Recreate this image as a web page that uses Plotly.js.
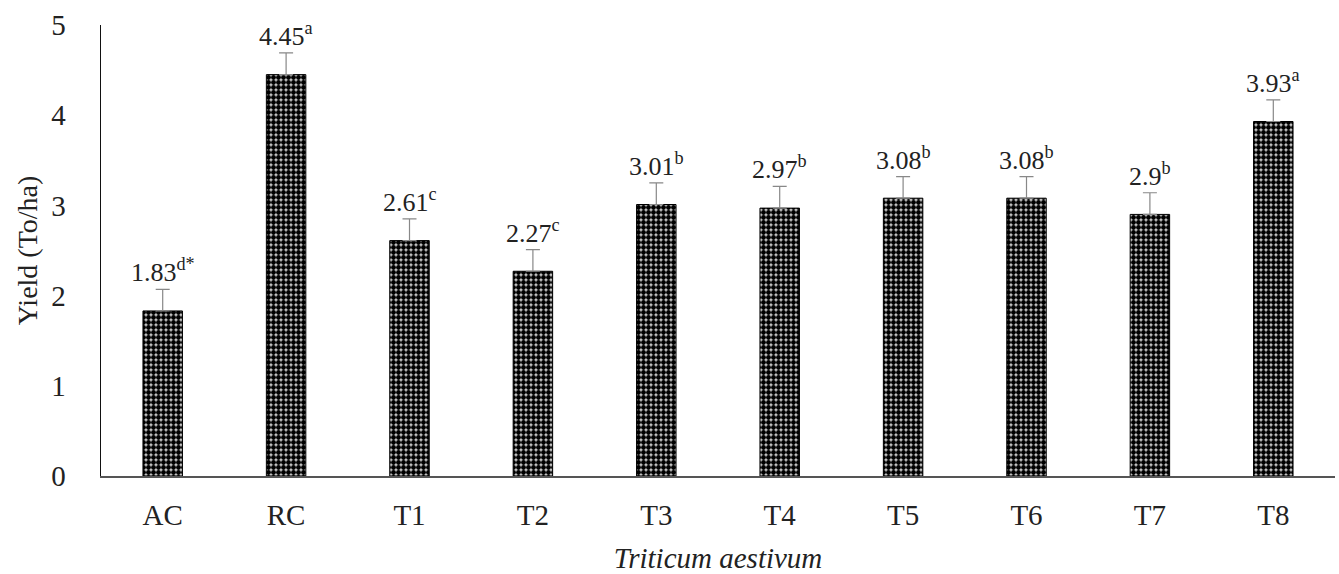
<!DOCTYPE html>
<html>
<head>
<meta charset="utf-8">
<script src="https://cdn.plot.ly/plotly-3.0.1.min.js"></script>
<style>html,body{margin:0;padding:0;background:#fff;}#chart{width:1339px;height:574px;}</style>
</head>
<body>
<div id="chart"></div>
<script>
const categories = ["AC","RC","T1","T2","T3","T4","T5","T6","T7","T8"];
const yields = [1.83,4.45,2.61,2.27,3.01,2.97,3.08,3.08,2.9,3.93];
const errors = [0.24,0.24,0.24,0.24,0.24,0.24,0.24,0.24,0.24,0.24];
const letters = ["d*","a","c","c","b","b","b","b","b","a"];
const valueLabels = ["1.83","4.45","2.61","2.27","3.01","2.97","3.08","3.08","2.9","3.93"];

const FONT = "Liberation Serif, DejaVu Serif, serif";

const trace = {
  type: "bar",
  x: categories,
  y: yields,
  marker: {
    color: "#111",
    line: {color: "#000", width: 1},
    pattern: {shape: ".", fgcolor: "#000", bgcolor: "#d8d8d8", size: 5, solidity: 0.75, fillmode: "replace"}
  },
  error_y: {type: "data", array: errors, symmetric: false, arrayminus: errors.map(()=>0), color: "#888", thickness: 1.2, width: 7},
  hoverinfo: "skip"
};

const annotations = categories.map((c,i)=>({
  x: c, y: yields[i] + errors[i], xref: "x", yref: "y",
  text: valueLabels[i] + "<sup>" + letters[i] + "</sup>",
  showarrow: false, yanchor: "bottom", yshift: 0,
  font: {family: FONT, size: 26, color: "#222"}
}));

const layout = {
  width: 1339, height: 574,
  margin: {l: 101, r: 4, t: 25, b: 98},
  paper_bgcolor: "#fff", plot_bgcolor: "#fff",
  showlegend: false,
  bargap: 0.68,
  font: {family: FONT, color: "#222"},
  xaxis: {
    type: "category",
    showline: true, linecolor: "#555", linewidth: 1.5,
    showgrid: false, zeroline: false, ticks: "",
    ticklabelstandoff: 13,
    tickfont: {family: FONT, size: 29, color: "#222"},
    title: {text: "<i>Triticum aestivum</i>", font: {family: FONT, size: 29, color: "#222"}, standoff: 20}
  },
  yaxis: {
    range: [0, 5], dtick: 1,
    showline: true, linecolor: "#111", linewidth: 1.5,
    showgrid: false, zeroline: false, ticks: "",
    ticklabelstandoff: 28,
    tickfont: {family: FONT, size: 29, color: "#222"},
    title: {text: "Yield (To/ha)", font: {family: FONT, size: 28, color: "#222"}, standoff: 5}
  },
  annotations: annotations
};

Plotly.newPlot("chart", [trace], layout, {staticPlot: true, displayModeBar: false});
</script>
</body>
</html>
